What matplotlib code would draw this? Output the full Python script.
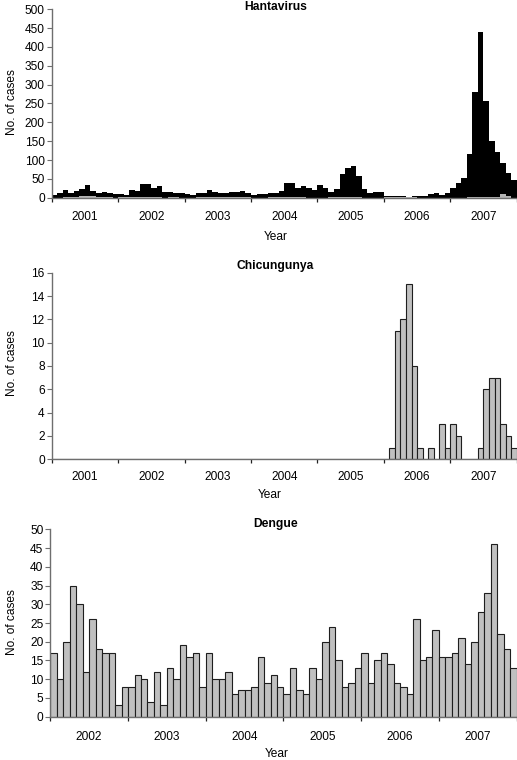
import matplotlib
matplotlib.use("Agg")
import matplotlib.pyplot as plt
import numpy as np
from matplotlib.ticker import FixedLocator, NullFormatter, FixedFormatter

plt.rcParams['font.family'] = ['Liberation Sans', 'DejaVu Sans']

# ---------------- data ----------------
hanta_years = ['2001', '2002', '2003', '2004', '2005', '2006', '2007']
hanta_total = [
    7, 12, 20, 12, 18, 24, 34, 17, 13, 16, 13, 11,      # 2001
    11, 6, 20, 19, 36, 37, 25, 30, 16, 14, 13, 12,      # 2002
    10, 7, 13, 13, 20, 15, 13, 12, 14, 14, 17, 13,      # 2003
    7, 10, 10, 12, 12, 18, 38, 40, 27, 30, 26, 21,      # 2004
    33, 27, 15, 23, 63, 80, 83, 58, 24, 13, 14, 15,     # 2005
    4, 4, 5, 4, 2, 5, 5, 5, 9, 12, 7, 13,               # 2006
    26, 38, 52, 115, 280, 440, 256, 150, 122, 91, 65, 47,  # 2007
]
hanta_other = [
    0, 0, 1, 1, 3, 4, 5, 4, 2, 1, 1, 0,
    1, 1, 2, 1, 3, 2, 1, 1, 0, 1, 1, 0,
    0, 0, 1, 1, 1, 2, 2, 2, 1, 3, 3, 1,
    0, 0, 0, 1, 1, 1, 2, 1, 1, 1, 0, 0,
    0, 0, 1, 1, 1, 1, 1, 1, 0, 0, 0, 0,
    1, 1, 2, 2, 2, 1, 0, 0, 0, 0, 0, 0,
    0, 0, 0, 1, 2, 3, 1, 3, 2, 10, 4, 0,
]

chik_years = ['2001', '2002', '2003', '2004', '2005', '2006', '2007']
chik_cases = [0] * 60 + [
    0, 1, 11, 12, 15, 8, 1, 0, 1, 0, 3, 1,      # 2006
    3, 2, 0, 0, 0, 1, 6, 7, 7, 3, 2, 1,         # 2007
]

dengue_years = ['2002', '2003', '2004', '2005', '2006', '2007']
dengue_cases = [
    17, 10, 20, 35, 30, 12, 26, 18, 17, 17, 3, 8,       # 2002
    8, 11, 10, 4, 12, 3, 13, 10, 19, 16, 17, 8,         # 2003
    17, 10, 10, 12, 6, 7, 7, 8, 16, 9, 11, 8,           # 2004
    6, 13, 7, 6, 13, 10, 20, 24, 15, 8, 9, 13,          # 2005
    17, 9, 15, 17, 14, 9, 8, 6, 26, 15, 16, 23,         # 2006
    16, 16, 17, 21, 14, 20, 28, 33, 46, 22, 18, 13,     # 2007
]

W, H = 517, 760
fig = plt.figure(figsize=(W / 100, H / 100), dpi=100)

AX_COL = '#6e6e6e'
GREY = '#c0c0c0'
FS = 8.6
TFS = 8.7


def fx(px):
    return px / W


def fy(py):
    return 1 - py / H


def frame(ax, years, ymax, ystep, title, xpad, title_px, year_px, ylab_y):
    n = len(years) * 12
    ax.set_xlim(0, n)
    ax.set_ylim(0, ymax)
    for s in ['top', 'right']:
        ax.spines[s].set_visible(False)
    for s in ['left', 'bottom']:
        ax.spines[s].set_color(AX_COL)
        ax.spines[s].set_linewidth(1.0)
    ax.set_yticks(np.arange(0, ymax + 0.001, ystep))
    ax.tick_params(axis='y', direction='out', length=3.5, width=0.8, color=AX_COL,
                   labelsize=FS, pad=1.5)
    ax.xaxis.set_major_locator(FixedLocator(np.arange(0, n + 1, 12)))
    ax.xaxis.set_major_formatter(NullFormatter())
    ax.xaxis.set_minor_locator(FixedLocator(np.arange(6, n, 12)))
    ax.xaxis.set_minor_formatter(FixedFormatter(years))
    ax.tick_params(axis='x', which='major', direction='out', length=3, width=0.9,
                   color='#222222')
    ax.tick_params(axis='x', which='minor', length=0, labelsize=FS, pad=xpad)
    # y label
    ax.set_ylabel('No. of cases', fontsize=FS)
    ax.yaxis.set_label_coords(fx(11.7), fy(ylab_y), transform=fig.transFigure)
    ax.yaxis.label.set_verticalalignment('center')
    # x label
    ax.set_xlabel('Year', fontsize=FS)
    ax.xaxis.set_label_coords(fx(year_px[0]), fy(year_px[1]), transform=fig.transFigure)
    ax.xaxis.label.set_verticalalignment('center')
    # title
    fig.text(fx(title_px[0]), fy(title_px[1]), title, fontsize=TFS,
             fontweight='bold', ha='center', va='baseline')


# Hantavirus
ax1 = fig.add_axes([fx(51.7), fy(197.7), 465 / W, 188.4 / H])
x1 = np.arange(len(hanta_total))
ax1.bar(x1, hanta_total, width=1.0, align='edge', color='black', linewidth=0)
ax1.bar(x1, hanta_other, width=1.0, align='edge', color='#b4b4b4', linewidth=0)
frame(ax1, hanta_years, 500, 50, 'Hantavirus', 9.5, (275.5, 9.8), (276, 236.5), 101.7)

# Chicungunya
ax2 = fig.add_axes([fx(51.7), fy(459.3), 465 / W, 186.6 / H])
x2 = np.arange(len(chik_cases))
ax2.bar(x2, chik_cases, width=1.0, align='edge', color=GREY,
        edgecolor='#1e1e1e', linewidth=0.8)
frame(ax2, chik_years, 16, 2, 'Chicungunya', 8.2, (275.5, 269.4), (270, 495), 363)

# Dengue
ax3 = fig.add_axes([fx(50.3), fy(716.7), 466.4 / W, 187.4 / H])
x3 = np.arange(len(dengue_cases))
ax3.bar(x3, dengue_cases, width=1.0, align='edge', color=GREY,
        edgecolor='#1e1e1e', linewidth=0.8)
frame(ax3, dengue_years, 50, 5, 'Dengue', 10, (275.5, 527.1), (277, 754), 622.5)

fig.savefig('out.png', dpi=100)
